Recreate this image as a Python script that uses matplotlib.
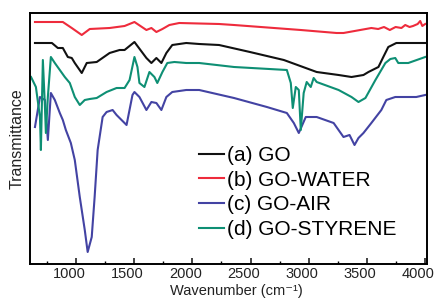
import numpy as np
import matplotlib
matplotlib.use("Agg")
import matplotlib.pyplot as plt
import matplotlib.transforms as mtransforms
from matplotlib.ticker import MultipleLocator

plt.rcParams["font.family"] = ["Liberation Sans", "DejaVu Sans"]
plt.rcParams["mathtext.default"] = "regular"

# FTIR spectra (wavenumber cm-1, transmittance in arbitrary offset units)
go_wn = [643, 754, 789, 840, 883, 926, 960, 986, 1046, 1089, 1175, 1286, 1372, 1415,
         1500, 1603, 1646, 1689, 1732, 1775, 1826, 1946, 2058, 2229, 2495, 2787, 3070,
         3259, 3370, 3473, 3516, 3602, 3644, 3687, 3756, 4005]
go_t = [221, 221, 221, 216, 216, 207, 206, 201, 191, 201, 202, 211, 214, 214,
        222, 206, 201, 206, 201, 211, 219, 221, 220, 219, 212, 204, 192,
        189, 187, 189, 192, 197, 207, 217, 221, 221]

water_wn = [643, 883, 960, 1046, 1115, 1286, 1415, 1500, 1603, 1646, 1689, 1741, 1801,
            1886, 2229, 2358, 2933, 3241, 3301, 3541, 3600, 3650, 3700, 3750, 3800,
            3833, 3870, 3900, 3940, 3962, 3980, 4005]
water_t = [242, 242, 236, 229, 235, 236, 238, 242, 234, 236, 232, 235, 239,
           241, 240, 239, 234, 231, 231, 236, 235, 237, 234, 237, 236,
           239, 237, 238, 240, 243, 238, 240]

air_wn = [643, 686, 729, 754, 780, 814, 857, 883, 909, 952, 986, 1029, 1072, 1097,
          1132, 1157, 1183, 1209, 1226, 1260, 1312, 1346, 1389, 1432, 1483, 1500,
          1543, 1603, 1646, 1689, 1732, 1775, 1826, 1946, 2058, 2358, 2641, 2813,
          2873, 2916, 2976, 3070, 3216, 3301, 3353, 3396, 3430, 3473, 3541, 3627,
          3670, 3747, 3928, 4005]
air_t = [137, 167, 164, 124, 171, 164, 151, 144, 134, 121, 104, 67, 34, 12,
         27, 67, 114, 134, 147, 152, 154, 149, 144, 139, 169, 172,
         167, 154, 162, 161, 154, 167, 172, 174, 174, 166, 157, 151,
         141, 131, 147, 147, 141, 127, 129, 119, 126, 131, 141, 154,
         164, 167, 167, 169]

sty_wn = [609, 651, 686, 694, 711, 729, 737, 754, 780, 814, 857, 900, 943, 986,
          1029, 1072, 1115, 1175, 1260, 1346, 1415, 1458, 1500, 1526, 1543, 1586,
          1629, 1672, 1697, 1741, 1783, 1844, 1946, 2058, 2358, 2813, 2847, 2864,
          2890, 2916, 2933, 2958, 2984, 3019, 3044, 3070, 3259, 3370, 3430, 3490,
          3576, 3662, 3705, 3747, 3773, 3859, 4005]
sty_t = [187, 177, 147, 114, 204, 157, 131, 167, 207, 201, 194, 187, 181, 167,
         159, 164, 165, 166, 172, 176, 176, 184, 207, 197, 181, 177,
         192, 187, 181, 192, 201, 202, 201, 201, 197, 194, 181, 156,
         177, 174, 134, 171, 182, 177, 186, 182, 174, 167, 162, 166,
         184, 201, 205, 206, 201, 201, 207]

labels = ["(a) GO", "(b) GO-WATER", "(c) GO-AIR", "(d) GO-STYRENE"]
colors = ["#111111", "#ee2b3c", "#4343a3", "#0e8f74"]

fig = plt.figure(figsize=(4.37, 3.03), dpi=100)
ax = fig.add_axes([0.0686, 0.1287, 0.9084, 0.8284])

h_air, = ax.plot(air_wn, air_t, color=colors[2], lw=1.5)
h_sty, = ax.plot(sty_wn, sty_t, color=colors[3], lw=1.5)
h_go, = ax.plot(go_wn, go_t, color=colors[0], lw=1.5)
h_water, = ax.plot(water_wn, water_t, color=colors[1], lw=1.5)

ax.set_xlim(600, 4020)
ax.set_ylim(0, 251)
ax.xaxis.set_minor_locator(MultipleLocator(250))
ax.set_xticks([1000, 1500, 2000, 2500, 3000, 3500, 4000])
ax.set_yticks([])
ax.tick_params(axis="x", which="major", direction="in", length=4, width=1.2,
               labelsize=10.5, pad=2.5, colors="#222222")
ax.tick_params(axis="x", which="minor", direction="in", length=2.5, width=1.0)
for s in ax.spines.values():
    s.set_linewidth(1.4)

# tick labels sit a little left of their ticks in the original
offset = mtransforms.ScaledTranslation(-7 / 100, 0, fig.dpi_scale_trans)
for lbl in ax.get_xticklabels():
    lbl.set_transform(lbl.get_transform() + offset)

ax.set_xlabel("Wavenumber (cm\u207b\u00b9)", fontsize=10.5, color="#222222")
ax.xaxis.set_label_coords(0.52, -0.08)
ax.set_ylabel("Transmittance", fontsize=11.5, labelpad=4, color="#222222")

ax.legend([h_go, h_water, h_air, h_sty], labels, loc="center left",
          bbox_to_anchor=(0.405, 0.285), frameon=False, fontsize=15,
          handlelength=1.2, handletextpad=0.15, labelspacing=0.27,
          borderaxespad=0)

fig.savefig("out.png", dpi=100)
